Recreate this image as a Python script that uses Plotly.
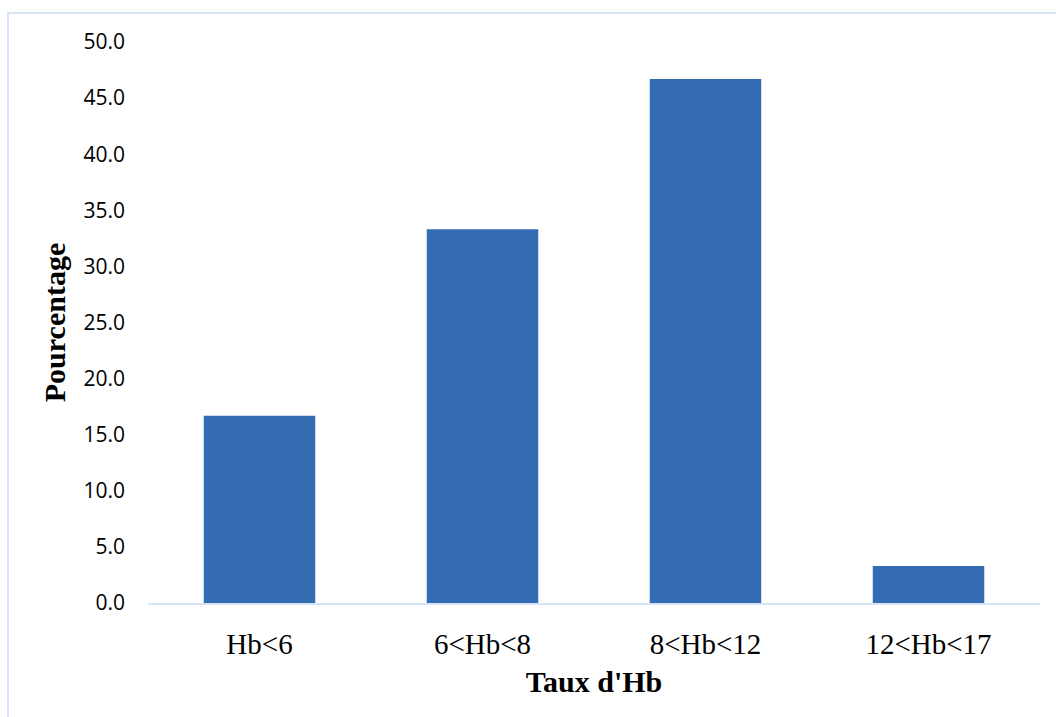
import plotly.graph_objects as go

categories = ["Hb<6", "6<Hb<8", "8<Hb<12", "12<Hb<17"]
pourcentage = [16.7, 33.3, 46.7, 3.3]
y_ticks = [0, 5, 10, 15, 20, 25, 30, 35, 40, 45, 50]

fig = go.Figure()
fig.add_trace(go.Bar(
    x=categories, y=pourcentage,
    marker=dict(color="#336cb3", line=dict(width=0)),
))

L, R, T, B = 148, 16, 42, 114
W, H = 1056, 717
pw, ph = W - L - R, H - T - B

fig.update_layout(
    width=W, height=H,
    margin=dict(l=L, r=R, t=T, b=B),
    plot_bgcolor="white", paper_bgcolor="white",
    bargap=0.5, showlegend=False,
    xaxis=dict(
        showline=True, linecolor="#d6e4f5", linewidth=2,
        showgrid=False, ticks="",
        tickfont=dict(family="Liberation Serif", size=29, color="black"),
        ticklabelstandoff=14,
        title=dict(text="<b>Taux d'Hb</b>", font=dict(family="Liberation Serif", size=30, color="black"), standoff=12),
    ),
    yaxis=dict(
        range=[0, 50], tickvals=y_ticks, ticktext=[f"{v:.1f}" for v in y_ticks],
        showgrid=False, showline=False, zeroline=False, ticks="",
        tickfont=dict(family="Open Sans", size=21, color="black"),
        ticklabelstandoff=22,
        title=dict(text="<b>Pourcentage</b>", font=dict(family="Liberation Serif", size=30, color="black"), standoff=8),
    ),
    shapes=[dict(
        type="rect", xref="paper", yref="paper",
        x0=(8 - L) / pw, x1=1.2, y0=-0.4, y1=(H - B - 13) / ph,
        line=dict(color="#d6e4f5", width=2), fillcolor="rgba(0,0,0,0)", layer="below",
    )],
)

fig.write_html("out.html")
